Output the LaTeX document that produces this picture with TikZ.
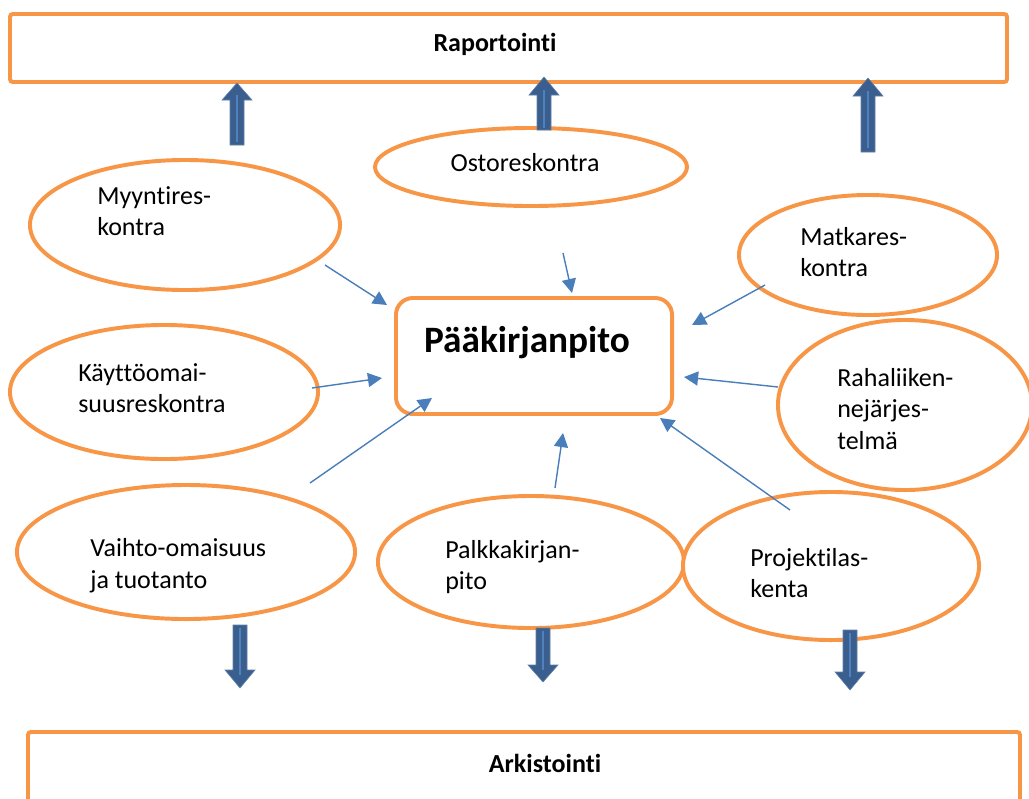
\documentclass[tikz,border=0pt]{standalone}
\usepackage{fontspec}
\setmainfont{Carlito}[Ligatures=NoCommon]
\usetikzlibrary{arrows.meta, positioning, shapes.geometric}
\definecolor{frameOrange}{HTML}{F79646}
\definecolor{linkBlue}{HTML}{4A7EBB}
\definecolor{barDark}{HTML}{3A5F8E}
\definecolor{barLight}{HTML}{4F81BD}

\begin{document}
\begin{tikzpicture}[
        x=0.025cm, y=-0.025cm,
        frame/.style={draw=frameOrange, line width=2.8pt, rounded corners=2pt},
        bubble/.style={
            ellipse, draw=frameOrange, fill=white, line width=2.8pt,
            inner sep=0pt, minimum width=#1
        },
        bubbletext/.style={
            anchor=west, align=left, inner sep=0pt, font=\fontsize{18.5}{22.5}\selectfont
        },
        title/.style={font=\bfseries\fontsize{18.5}{22.5}\selectfont, inner sep=0pt},
        link/.style={-{Triangle[length=10pt, width=10pt]}, line width=1pt, color=linkBlue},
        blockbar/.style={fill=barDark, draw=barDark!80, line width=0.4pt},
        blockstripe/.style={draw=barLight, line width=2pt},
    ]
    \useasboundingbox (0,0) rectangle (1029,798);

    % ---- Frames ----
    \draw[frame] (10,14) rectangle (1007,82);
    \node[title] (rap) at (495,44) {Raportointi};

    \draw[frame] (28,732) rectangle (1020,840);
    \node[title] (ark) at (545,763) {Arkistointi};

    \node[draw=frameOrange, line width=2.8pt, rounded corners=12pt,
          minimum width=6.9cm, minimum height=2.9cm, inner sep=0pt] (paa) at (534,356) {};
    \node[font=\bfseries\fontsize{26.5}{30}\selectfont, inner sep=0pt] (paaT) at (527,343) {Pääkirjanpito};

    % ---- Sub-ledgers ----
    \node[bubble=7.75cm, minimum height=3.25cm] (myynti) at (185,225) {};
    \node[bubble=7.8cm, minimum height=1.95cm] (osto) at (531,167) {};
    \node[bubble=6.45cm, minimum height=3.0cm] (matka) at (868,255) {};
    \node[bubble=7.7cm, minimum height=3.35cm] (kaytto) at (164,392) {};
    \node[bubble=6.35cm, minimum height=4.25cm] (raha) at (905,405) {};
    \node[bubble=8.45cm, minimum height=3.35cm] (vaihto) at (186,552) {};
    \node[bubble=7.65cm, minimum height=3.3cm] (palkka) at (531,562) {};
    \node[bubble=7.4cm, minimum height=3.7cm] (projekti) at (831,566) {};

    \node[bubbletext] (myyntiT) at (97,211) {Myyntires-\\kontra};
    \node[bubbletext, anchor=center] (ostoT) at (525,163) {Ostoreskontra};
    \node[bubbletext] (matkaT) at (800,252) {Matkares-\\kontra};
    \node[bubbletext] (kayttoT) at (78,388) {Käyttöomai-\\suusreskontra};
    \node[bubbletext] (rahaT) at (837,409) {Rahaliiken-\\nejärjes-\\telmä};
    \node[bubbletext] (vaihtoT) at (90,566) {Vaihto-omaisuus\\ja tuotanto};
    \node[bubbletext] (palkkaT) at (445,567) {Palkkakirjan-\\pito};
    \node[bubbletext] (projektiT) at (750,573) {Projektilas-\\kenta};

    % ---- Thin links into the general ledger ----
    \coordinate (myyntiOut) at (325,265);   \coordinate (myyntiIn) at (387,305);
    \coordinate (ostoOut) at (563,253);     \coordinate (ostoIn) at (572,293);
    \coordinate (matkaOut) at (765,285);    \coordinate (matkaIn) at (692,325);
    \coordinate (kayttoOut) at (312,388);   \coordinate (kayttoIn) at (382,378);
    \coordinate (rahaOut) at (778,387);     \coordinate (rahaIn) at (684,377);
    \coordinate (vaihtoOut) at (310,483);   \coordinate (vaihtoIn) at (432,398);
    \coordinate (palkkaOut) at (555,488);   \coordinate (palkkaIn) at (563,433);
    \coordinate (projektiOut) at (790,510); \coordinate (projektiIn) at (660,418);

    \foreach \n in {myynti, osto, matka, kaytto, raha, vaihto, palkka, projekti}
        \draw[link] (\n Out) -- (\n In);

    % ---- Block arrows (up to reporting, down to archive) ----
    \foreach \x/\ya/\yb/\hb in {237/145/83/100, 544/130/77/95, 868/152/78/96,
                                240/625/688/670, 543/628/682/665, 850/630/690/672} {
        \draw[blockbar] (\x-7,\ya) -- (\x-7,\hb) -- (\x-15,\hb) -- (\x,\yb)
            -- (\x+15,\hb) -- (\x+7,\hb) -- (\x+7,\ya) -- cycle;
        \draw[blockstripe] (\x,{\ya+(\hb-\ya)*0.07}) -- (\x,{\hb+(\yb-\hb)*0.3});
    }

\end{tikzpicture}
\end{document}
